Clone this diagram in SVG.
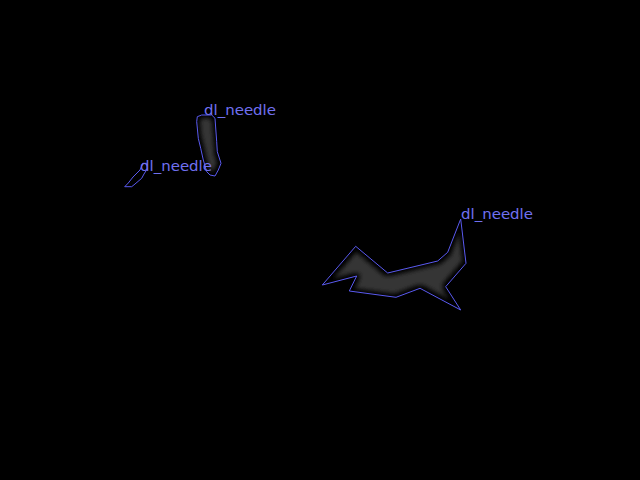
<svg xmlns="http://www.w3.org/2000/svg" width="640" height="480" viewBox="0 0 640 480">
<defs>
<filter id="soft" x="-20%" y="-20%" width="140%" height="140%">
<feMorphology operator="erode" radius="2.5"/>
<feGaussianBlur stdDeviation="2.2"/>
</filter>
<style>
.fill{fill:#363636;filter:url(#soft)}
.edge{fill:none;stroke:#5a5af0;stroke-width:1}
.lbl{font-family:"DejaVu Sans",sans-serif;font-size:14px;fill:#7070f0}
</style>
</defs>
<rect width="640" height="480" fill="#000"/>
<g id="needle1">
<polygon class="fill" points="197.3,116.7 201.7,115 211.7,115 215,118.3 216.7,141.7 217.3,151.7 221,163.3 218.3,170 215,176 210,175 206.7,171.7 203.3,160 200.7,148.3 198.3,138.3 196.7,121.7"/>
<polygon class="edge" points="197.3,116.7 201.7,115 211.7,115 215,118.3 216.7,141.7 217.3,151.7 221,163.3 218.3,170 215,176 210,175 206.7,171.7 203.3,160 200.7,148.3 198.3,138.3 196.7,121.7"/>
<text class="lbl" x="204" y="115" textLength="72" lengthAdjust="spacingAndGlyphs">dl_needle</text>
</g>
<g id="needle2">
<polygon class="edge" points="124.7,186.7 131.7,186.7 135,184 141.7,178.3 144,174 147,169.3 146.7,163.3 142.7,163.3 141.7,166 140,170 133,177 128.3,183 124.7,186.7"/>
<text class="lbl" x="140" y="171" textLength="72" lengthAdjust="spacingAndGlyphs">dl_needle</text>
</g>
<g id="needle3">
<polygon class="fill" points="322.3,285 355.7,246.3 387.7,273 437.7,261 447.7,252.3 460.7,219 466,263.3 445.7,286.7 460.7,310 420,288.3 396,297.3 349.3,291 356.7,276"/>
<polygon class="edge" points="322.3,285 355.7,246.3 387.7,273 437.7,261 447.7,252.3 460.7,219 466,263.3 445.7,286.7 460.7,310 420,288.3 396,297.3 349.3,291 356.7,276"/>
<text class="lbl" x="461" y="219" textLength="72" lengthAdjust="spacingAndGlyphs">dl_needle</text>
</g>
</svg>
